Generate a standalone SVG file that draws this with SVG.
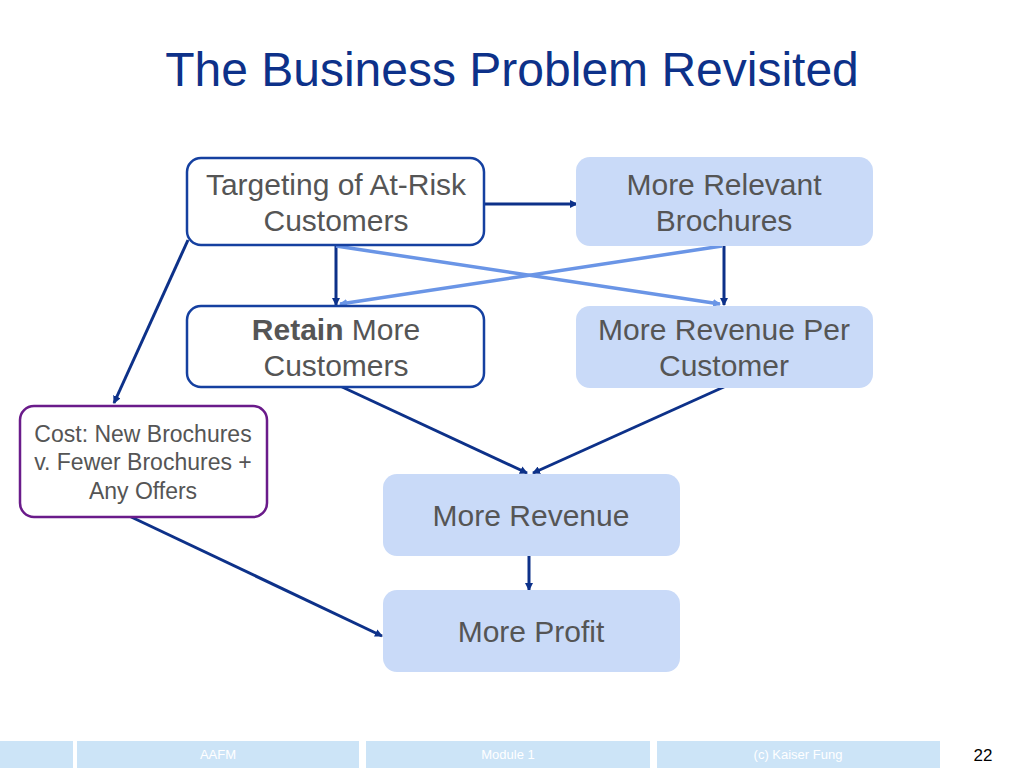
<svg xmlns="http://www.w3.org/2000/svg" width="1024" height="768" viewBox="0 0 1024 768">
<defs>
<marker id="ad" markerWidth="8" markerHeight="8" refX="7" refY="4" orient="auto" markerUnits="userSpaceOnUse"><path d="M0,0 L8,4 L0,8 z" fill="#0d3189"/></marker>
<marker id="al" markerWidth="8" markerHeight="8" refX="7" refY="4" orient="auto" markerUnits="userSpaceOnUse"><path d="M0,0 L8,4 L0,8 z" fill="#6a95e6"/></marker>
<style>
text{font-family:"Liberation Sans",Arial,sans-serif;fill:#555;}
.t{font-size:30px;text-anchor:middle;}
.ow{fill:#fff;stroke:#1540a0;stroke-width:2.5;}
.fb{fill:#c9daf8;stroke:none;}
.d{stroke:#0d3189;stroke-width:3;fill:none;marker-end:url(#ad);}
.l{stroke:#6a95e6;stroke-width:3.5;fill:none;marker-end:url(#al);}
.f{fill:#cce4f7;}
.ft{font-size:13px;fill:#fff;text-anchor:middle;}
</style>
</defs>
<rect width="1024" height="768" fill="#fff"/>
<text x="512" y="86" font-size="48" style="fill:#0d3189" text-anchor="middle">The Business Problem Revisited</text>
<g id="connectors">
<line class="d" x1="485" y1="204" x2="577" y2="204"/>
<line class="d" x1="336" y1="246" x2="336" y2="305"/>
<line class="d" x1="724" y1="246" x2="724" y2="305"/>
<line class="l" x1="336" y1="246" x2="720" y2="304"/>
<line class="l" x1="722" y1="246" x2="340" y2="304"/>
<line class="d" x1="188" y1="240" x2="114" y2="403"/>
<line class="d" x1="340" y1="386" x2="527" y2="473"/>
<line class="d" x1="726" y1="386" x2="533" y2="473"/>
<line class="d" x1="529" y1="556" x2="529" y2="590"/>
<line class="d" x1="127" y1="515" x2="382" y2="636"/>
</g>
<g id="n1"><rect class="ow" x="187" y="158" width="297" height="87" rx="14"/><text class="t" x="336" y="195">Targeting of At-Risk</text><text class="t" x="336" y="231">Customers</text></g>
<g id="n2"><rect class="fb" x="576" y="157" width="297" height="89" rx="14"/><text class="t" x="724" y="195">More Relevant</text><text class="t" x="724" y="231">Brochures</text></g>
<g id="n3"><rect class="ow" x="187" y="306" width="297" height="81" rx="14"/><text class="t" x="336" y="340"><tspan font-weight="bold">Retain</tspan> More</text><text class="t" x="336" y="376">Customers</text></g>
<g id="n4"><rect class="fb" x="576" y="306" width="297" height="82" rx="14"/><text class="t" x="724" y="340">More Revenue Per</text><text class="t" x="724" y="376">Customer</text></g>
<g id="n5"><rect x="20" y="406" width="247" height="111" rx="14" fill="#fff" stroke="#6a1b8a" stroke-width="2.5"/><text x="143" y="442" font-size="23" text-anchor="middle">Cost: New Brochures</text><text x="143" y="470" font-size="23" text-anchor="middle">v. Fewer Brochures +</text><text x="143" y="499" font-size="23" text-anchor="middle">Any Offers</text></g>
<g id="n6"><rect class="fb" x="383" y="474" width="297" height="82" rx="14"/><text class="t" x="531" y="526">More Revenue</text></g>
<g id="n7"><rect class="fb" x="383" y="590" width="297" height="82" rx="14"/><text class="t" x="531" y="642">More Profit</text></g>
<g id="footer">
<rect class="f" x="0" y="741" width="73" height="27"/>
<rect class="f" x="77" y="741" width="282" height="27"/>
<rect class="f" x="366" y="741" width="284" height="27"/>
<rect class="f" x="657" y="741" width="283" height="27"/>
<text class="ft" x="218" y="759">AAFM</text>
<text class="ft" x="508" y="759">Module 1</text>
<text class="ft" x="798" y="759">(c) Kaiser Fung</text>
<text x="983" y="761" font-size="17" style="fill:#000" text-anchor="middle">22</text>
</g>
</svg>
